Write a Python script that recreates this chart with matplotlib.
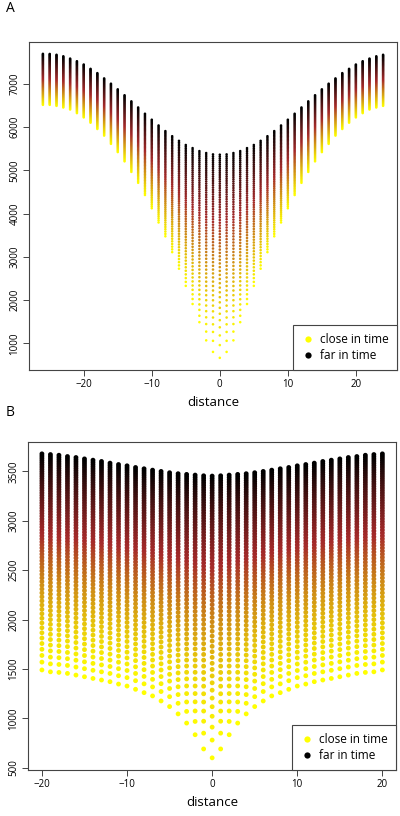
import numpy as np
import matplotlib
matplotlib.use("Agg")
import matplotlib.pyplot as plt
from matplotlib.colors import LinearSegmentedColormap
from matplotlib.lines import Line2D

plt.rcParams['font.family'] = ['Open Sans', 'DejaVu Sans']

# ---------------- data ----------------
# Panel A: distances -26..24, lowest (closest in time) and highest (farthest) value per column
dist_A = list(range(-26, 25))
half_low_A = {0: 667, 1: 804, 2: 1071, 3: 1491, 4: 1911, 5: 2330, 6: 2727, 7: 3109, 8: 3475,
              9: 3795, 10: 4123, 11: 4429, 12: 4711, 13: 4963, 14: 5207, 15: 5421, 16: 5611,
              17: 5802, 18: 5955, 19: 6100, 20: 6222, 21: 6321, 22: 6405, 23: 6451, 24: 6489,
              25: 6512, 26: 6512}
half_high_A = {0: 5360, 1: 5367, 2: 5398, 3: 5443, 4: 5512, 5: 5584, 6: 5680, 7: 5787, 8: 5905,
               9: 6035, 10: 6168, 11: 6306, 12: 6451, 13: 6592, 14: 6733, 15: 6870, 16: 7000,
               17: 7122, 18: 7244, 19: 7343, 20: 7443, 21: 7519, 22: 7580, 23: 7633, 24: 7668,
               25: 7687, 26: 7690}
low_A = [half_low_A[abs(d)] for d in dist_A]
high_A = [half_high_A[abs(d)] for d in dist_A]

# Panel B: distances -20..20
dist_B = list(range(-20, 21))
half_low_B = {0: 600, 1: 690, 2: 834, 3: 952, 4: 1045, 5: 1119, 6: 1176, 7: 1227, 8: 1260,
              9: 1294, 10: 1327, 11: 1347, 12: 1371, 13: 1388, 14: 1404, 15: 1421, 16: 1438,
              17: 1455, 18: 1465, 19: 1471, 20: 1490}
half_high_B = {0: 3453, 1: 3456, 2: 3463, 3: 3470, 4: 3477, 5: 3487, 6: 3500, 7: 3513, 8: 3527,
               9: 3540, 10: 3557, 11: 3570, 12: 3584, 13: 3601, 14: 3614, 15: 3627, 16: 3641,
               17: 3651, 18: 3664, 19: 3671, 20: 3678}
low_B = [half_low_B[abs(d)] for d in dist_B]
high_B = [half_high_B[abs(d)] for d in dist_B]

n_times_A = 60  # time lags per column (close -> far)
n_times_B = 66
spacing_A = 1.0   # spacing profile of the time lags within a column
spacing_B = 0.92

cmap = LinearSegmentedColormap.from_list("time", ["#FFFF00", "#A52A2A", "#000000"])


def columns(dist, low, high, n, p):
    xs, ys, cs = [], [], []
    frac = np.arange(n) / (n - 1)
    for d, lo, hi in zip(dist, low, high):
        y = np.sqrt(lo ** 2 + (hi ** 2 - lo ** 2) * frac ** p)
        xs.append(np.full(n, d))
        ys.append(y)
        cs.append(frac)
    xs = np.concatenate(xs); ys = np.concatenate(ys); cs = np.concatenate(cs)
    order = np.argsort(cs, kind="stable")
    return xs[order], ys[order], cs[order]


W, H = 400, 816
fig = plt.figure(figsize=(W / 100, H / 100), dpi=100)

axA = fig.add_axes([29.3 / W, 1 - 370 / H, (396.7 - 29.3) / W, (370 - 41.7) / H])
axB = fig.add_axes([28.3 / W, 1 - 770 / H, (396 - 28.3) / W, (770 - 441.7) / H])

xa, ya, ca = columns(dist_A, low_A, high_A, n_times_A, spacing_A)
axA.scatter(xa, ya, c=ca, cmap=cmap, s=3.4, linewidths=0)
xb, yb, cb = columns(dist_B, low_B, high_B, n_times_B, spacing_B)
axB.scatter(xb, yb, c=cb, cmap=cmap, s=12, linewidths=0)

for ax, dist, low, high, yt in [(axA, dist_A, low_A, high_A, [1000, 2000, 3000, 4000, 5000, 6000, 7000]),
                                (axB, dist_B, low_B, high_B, [500, 1000, 1500, 2000, 2500, 3000, 3500])]:
    x0, x1 = min(dist), max(dist)
    y0, y1 = min(low), max(high)
    ax.set_xlim(x0 - 0.04 * (x1 - x0), x1 + 0.04 * (x1 - x0))
    ax.set_ylim(y0 - 0.04 * (y1 - y0), y1 + 0.04 * (y1 - y0))
    ax.set_xticks([-20, -10, 0, 10, 20])
    ax.set_xticklabels(["\u221220", "\u221210", "0", "10", "20"])
    ax.set_yticks(yt)
    ax.set_yticklabels([str(v) for v in yt], rotation=90, va="center")
    ax.tick_params(axis="both", labelsize=7, length=4, width=0.7, color="#444444", pad=2.5)
    for sp in ax.spines.values():
        sp.set_color("#444444")
        sp.set_linewidth(0.8)
    ax.set_xlabel("distance", fontsize=9.5, labelpad=4)
    handles = [Line2D([], [], marker="o", linestyle="none", markersize=4.5,
                      markerfacecolor="#FFFF00", markeredgecolor="none"),
               Line2D([], [], marker="o", linestyle="none", markersize=4.5,
                      markerfacecolor="#000000", markeredgecolor="none")]
    leg = ax.legend(handles, ["close in time", "far in time"], loc="lower right",
                    borderaxespad=0, fancybox=False, framealpha=1, fontsize=8.5,
                    handletextpad=0.4, handlelength=1.2, labelspacing=0.25,
                    borderpad=0.7)
    leg.get_frame().set_edgecolor("#444444")
    leg.get_frame().set_linewidth(0.8)

fig.text(10 / W, 1 - 9 / H, "A", fontsize=10, va="center", ha="center")
fig.text(10 / W, 1 - 412 / H, "B", fontsize=10, va="center", ha="center")

fig.savefig("out.png", dpi=100)
